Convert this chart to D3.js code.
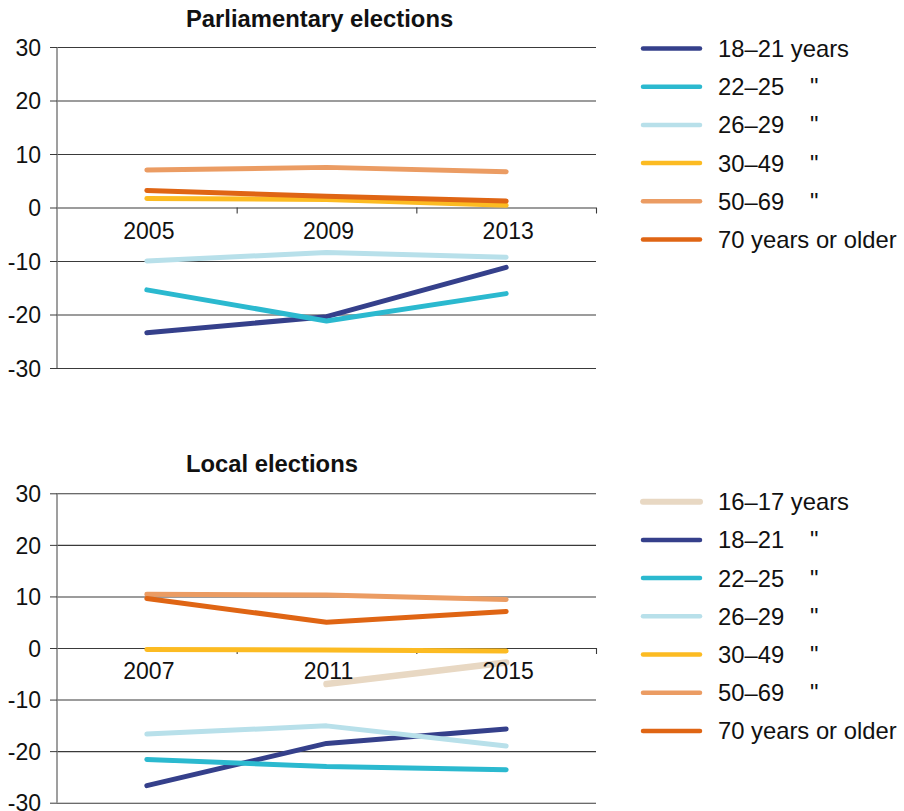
<!DOCTYPE html>
<html>
<head>
<meta charset="utf-8">
<script src="https://cdn.jsdelivr.net/npm/d3@7"></script>
<style>
body { margin: 0; background: #fff; }
text { font-family: "Liberation Sans", Arial, sans-serif; fill: #111; }
</style>
</head>
<body>
<svg id="chart" width="904" height="811"></svg>
<script>
"use strict";

// Parliamentary elections
const parlYears = ["2005", "2009", "2013"];
const parl18_21 = [-23.4, -20.4, -11.2];
const parl22_25 = [-15.4, -21.2, -16.1];
const parl26_29 = [-10.0, -8.4, -9.3];
const parl30_49 = [1.7, 1.5, 0.4];
const parl50_69 = [7.0, 7.5, 6.7];
const parl70 = [3.2, 2.1, 1.2];
const parlLabels = ["18–21 years", "22–25", "26–29", "30–49", "50–69", "70 years or older"];
const parlDitto = [false, true, true, true, true, false];

// Local elections
const localYears = ["2007", "2011", "2015"];
const local16_17 = [null, -7.0, -2.8];
const local18_21 = [-26.7, -18.5, -15.7];
const local22_25 = [-21.6, -23.0, -23.6];
const local26_29 = [-16.7, -15.1, -19.0];
const local30_49 = [-0.3, -0.4, -0.6];
const local50_69 = [10.4, 10.3, 9.4];
const local70 = [9.6, 5.0, 7.1];
const localLabels = ["16–17 years", "18–21", "22–25", "26–29", "30–49", "50–69", "70 years or older"];
const localDitto = [false, true, true, true, true, true, false];

const yTicks = [-30, -20, -10, 0, 10, 20, 30];

const colors = {
    a16: "#e8d8c3",
    a18: "#35408b",
    a22: "#2bb9cf",
    a26: "#b8e0ea",
    a30: "#fcbb22",
    a50: "#eb9c63",
    a70: "#df6514"
};

const svg = d3.select("#chart");

function drawPanel(opt)
{
    let g = svg.append("g");
    let left = 57, right = 596;

    let x = d3.scaleBand()
              .domain(opt.years)
              .range([left, right]);
    let y = d3.scaleLinear()
              .domain([-30, 30])
              .range([opt.bottom, opt.top]);
    let xb = d3.scaleLinear()
               .domain([0, opt.years.length])
               .range([left, right]);

    // title
    g.append("text")
     .attr("x", 186)
     .attr("y", opt.titleY)
     .style("font-size", "23.8px")
     .style("font-weight", "bold")
     .text(opt.title);

    // grid lines
    let grid = g.append("g")
                .attr("transform", "translate(" + left + ",0)")
                .call(d3.axisLeft(y).tickValues(yTicks).tickSize(-(right - left)).tickFormat(""));
    grid.select(".domain").remove();
    grid.selectAll("line").attr("stroke", "#3a3a3a").attr("stroke-width", 1.1);

    // y axis with ticks + labels (plain hyphen for negatives)
    let ya = g.append("g")
              .attr("transform", "translate(" + left + ",0)")
              .call(d3.axisLeft(y).tickValues(yTicks).tickSize(7).tickPadding(9).tickFormat((d) => String(d)));
    ya.select(".domain").attr("stroke", "#7f7f7f").attr("stroke-width", 1.5)
      .attr("d", "M0," + y(30) + "V" + y(-30));
    ya.selectAll("line").attr("stroke", "#3a3a3a");
    ya.selectAll("text").style("font-size", "23px").attr("fill", "#111").attr("dy", "0.36em");

    // x axis boundary ticks at zero
    let xt = g.append("g")
              .attr("transform", "translate(0," + y(0) + ")")
              .call(d3.axisBottom(xb).tickValues(d3.range(1, opt.years.length + 1)).tickSize(6).tickFormat(""));
    xt.select(".domain").remove();
    xt.selectAll("line").attr("stroke", "#3a3a3a").attr("stroke-width", 1.1);

    // lines
    let line = d3.line()
                 .defined((d) => d != null)
                 .x((d, i) => x(opt.years[i]) + x.bandwidth() / 2)
                 .y((d) => y(d));

    opt.series.forEach((s) =>
    {
        g.append("path")
         .datum(s.values)
         .attr("fill", "none")
         .attr("stroke", s.color)
         .attr("stroke-width", s.width)
         .attr("stroke-linecap", "round")
         .attr("stroke-linejoin", "round")
         .attr("d", line);
    });

    // category labels
    let xa = g.append("g")
              .attr("transform", "translate(2," + y(0) + ")")
              .call(d3.axisBottom(x).tickSize(0).tickPadding(15));
    xa.select(".domain").remove();
    xa.selectAll("text").style("font-size", "23px").attr("fill", "#111");

    // legend
    let leg = g.append("g");
    opt.series.forEach((s, i) =>
    {
        let ly = opt.legendY + i * 38.2;
        leg.append("line")
           .attr("x1", 643).attr("x2", 700)
           .attr("y1", ly).attr("y2", ly)
           .attr("stroke", s.color)
           .attr("stroke-width", s.width > 5 ? 6 : 4.5)
           .attr("stroke-linecap", "round");
        leg.append("text")
           .attr("x", 718).attr("y", ly)
           .attr("dy", "0.36em")
           .style("font-size", "23.8px")
           .text(opt.labels[i]);
        if (opt.ditto[i])
        {
            leg.append("text")
               .attr("x", 810).attr("y", ly)
               .attr("dy", "0.36em")
               .style("font-size", "23.8px")
               .text("\"");
        }
    });
}

drawPanel({
    title: "Parliamentary elections",
    titleY: 27,
    top: 47,
    bottom: 368,
    legendY: 48.5,
    years: parlYears,
    labels: parlLabels,
    ditto: parlDitto,
    series: [
        {values: parl18_21, color: colors.a18, width: 5},
        {values: parl22_25, color: colors.a22, width: 5},
        {values: parl26_29, color: colors.a26, width: 5},
        {values: parl30_49, color: colors.a30, width: 5},
        {values: parl50_69, color: colors.a50, width: 5},
        {values: parl70, color: colors.a70, width: 5}
    ]
});

drawPanel({
    title: "Local elections",
    titleY: 471.5,
    top: 493.3,
    bottom: 802.7,
    legendY: 501.7,
    years: localYears,
    labels: localLabels,
    ditto: localDitto,
    series: [
        {values: local16_17, color: colors.a16, width: 6.5},
        {values: local18_21, color: colors.a18, width: 5},
        {values: local22_25, color: colors.a22, width: 5},
        {values: local26_29, color: colors.a26, width: 5},
        {values: local30_49, color: colors.a30, width: 5},
        {values: local50_69, color: colors.a50, width: 5},
        {values: local70, color: colors.a70, width: 5}
    ]
});
</script>
</body>
</html>
